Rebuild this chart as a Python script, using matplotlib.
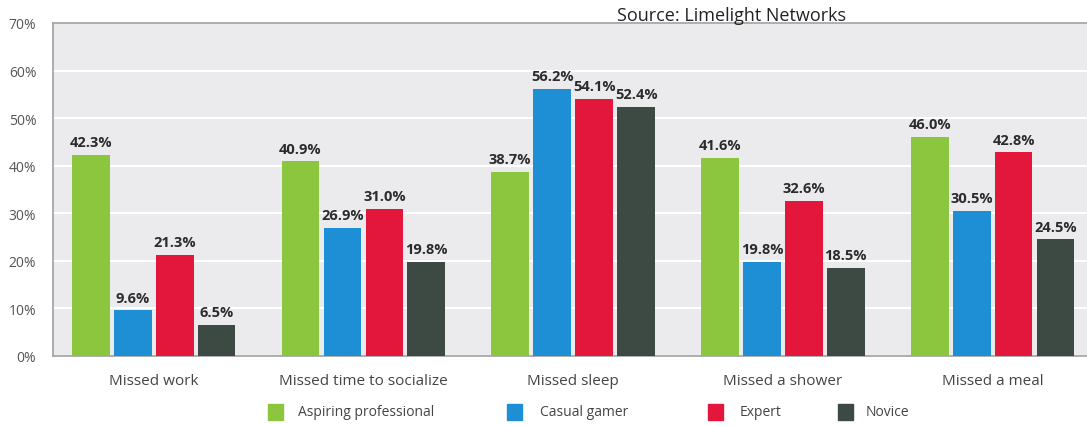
import numpy as np
import matplotlib.pyplot as plt
from matplotlib.patches import Rectangle

CATEGORIAS = ["Missed work", "Missed time to socialize", "Missed sleep",
              "Missed a shower", "Missed a meal"]
SERIES = ["Aspiring professional", "Casual gamer", "Expert", "Novice"]
ASPIRANTE = [42.3, 40.9, 38.7, 41.6, 46.0]
CASUAL = [9.6, 26.9, 56.2, 19.8, 30.5]
EXPERT = [21.3, 31.0, 54.1, 32.6, 42.8]
NOVATO = [6.5, 19.8, 52.4, 18.5, 24.5]
TICKS_Y = [0, 10, 20, 30, 40, 50, 60, 70]
CORES = ["#8cc63f", "#1e8fd5", "#e2173b", "#3d4a44"]

plt.rcParams["font.family"] = ["Open Sans", "DejaVu Sans"]

fig = plt.figure(figsize=(10.87, 4.27), dpi=100)
ax = fig.add_axes([53 / 1087, 1 - 357 / 427, 1 - 53 / 1087, (357 - 24) / 427])
ax.set_facecolor("#ebebed")

x = np.arange(len(CATEGORIAS))
largura = 0.18
passo = 0.2
valores = [ASPIRANTE, CASUAL, EXPERT, NOVATO]
for i, (serie, vals) in enumerate(zip(SERIES, valores)):
    pos = x + (i - 1.5) * passo
    ax.bar(pos, vals, width=largura, color=CORES[i], zorder=3, label=serie)
    for px, v in zip(pos, vals):
        ax.text(px, v + 1.2, f"{v:.1f}%", ha="center", va="bottom",
                fontsize=10.5, fontweight="bold", color="#2b2b2b", zorder=4)

ax.set_ylim(0, 70)
ax.set_xlim(-0.48, 4.45)
ax.set_yticks(TICKS_Y)
ax.set_yticklabels([f"{t}%" for t in TICKS_Y])
ax.set_xticks(x)
ax.set_xticklabels(CATEGORIAS)
ax.tick_params(axis="y", length=0, pad=12, labelsize=10, labelcolor="#555555")
ax.tick_params(axis="x", length=0, pad=12, labelsize=11, labelcolor="#444444")
ax.yaxis.grid(True, color="white", linewidth=1.5, zorder=0)
ax.set_axisbelow(True)

for lado in ["left", "top", "bottom"]:
    ax.spines[lado].set_color("#a0a0a0")
    ax.spines[lado].set_linewidth(1.2)
ax.spines["right"].set_visible(False)

# legenda manual na base
pos_leg = [(268, 298), (507, 540), (708, 740), (838, 866)]
for (xq, xt), cor, nome in zip(pos_leg, CORES, SERIES):
    fig.patches.append(Rectangle((xq / 1087, 1 - 421 / 427), 15 / 1087, 16 / 427,
                                 transform=fig.transFigure, color=cor))
    fig.text(xt / 1087, 1 - 413 / 427, nome, ha="left", va="center",
             fontsize=10, color="#444444")

fig.text(617 / 1087, 1 - 16 / 427, "Source: Limelight Networks", ha="left",
         va="center", fontsize=13, color="#222222")

fig.savefig("out.png", dpi=100)
